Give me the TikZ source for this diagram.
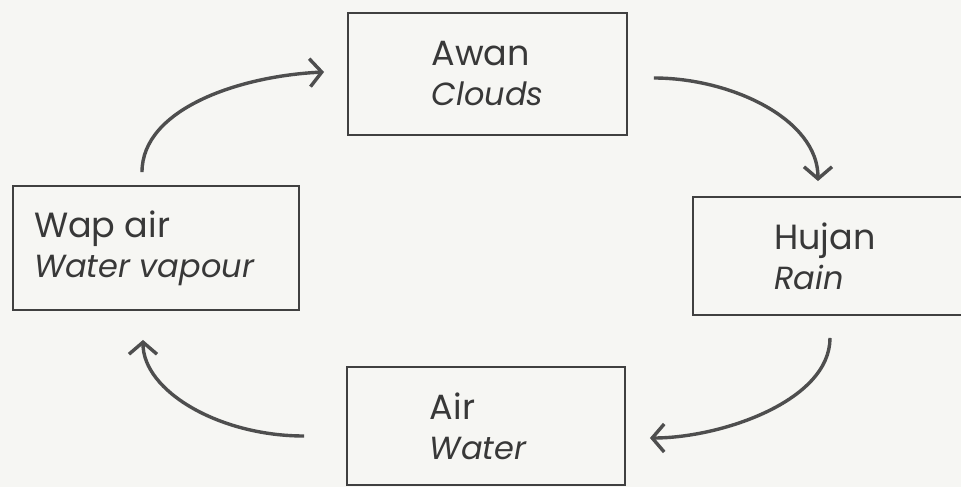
\documentclass[tikz,border=0pt]{standalone}
\usepackage{fontspec}
\setmainfont{Poppins}
\usetikzlibrary{arrows.meta}
\definecolor{bg}{HTML}{F6F6F3}
\definecolor{boxline}{HTML}{404040}
\definecolor{arrowc}{HTML}{4E4E4E}
\definecolor{txt}{HTML}{383838}
\newcommand{\en}[1]{{\fontsize{32}{40}\selectfont\itshape #1}}
\newcommand{\pad}[1]{\rule{#1pt}{0pt}}
\begin{document}
\begin{tikzpicture}[x=1pt,y=-1pt,
  stage/.style={draw=boxline, line width=1.9pt, text=txt, align=left,
    inner sep=0pt, font=\fontsize{35}{40}\selectfont},
  cyc/.style={draw=arrowc, line width=3.4pt,
    -{Straight Barb[length=12pt,width=28pt,line width=3.4pt]}}]
\fill[bg] (0,0) rectangle (961,487);
\useasboundingbox (0,0) rectangle (961,487);
\node[stage, minimum width=279, minimum height=122] (awan) at (487.5,74) {Awan\\\en{Clouds}};
\node[stage, minimum width=286, minimum height=124] (wap) at (156,248) {Wap air\pad{24}\\\en{Water vapour}\pad{24}};
\node[stage, minimum width=280, minimum height=118] (hujan) at (833,256) {Hujan\pad{16}\\\en{Rain}\pad{16}};
\node[stage, minimum width=278, minimum height=118] (air) at (486,426) {Air\pad{16}\\\en{Water}\pad{16}};
\draw[cyc] ([shift={(-14,-13)}]wap.north) .. controls +(0,-63) and +(-85,4) .. ([shift={(-23,-2)}]awan.west);
\draw[cyc] ([shift={(26,4)}]awan.east) .. controls +(77,0) and +(0,-62) .. ([shift={(-15,-15)}]hujan.north);
\draw[cyc] ([shift={(-3,22)}]hujan.south) .. controls +(0,63) and +(71,0) .. ([shift={(24,12)}]air.east);
\draw[cyc] ([shift={(-42,10)}]air.west) .. controls +(-85,0) and +(0,51) .. ([shift={(-13,29)}]wap.south);
\end{tikzpicture}
\end{document}
